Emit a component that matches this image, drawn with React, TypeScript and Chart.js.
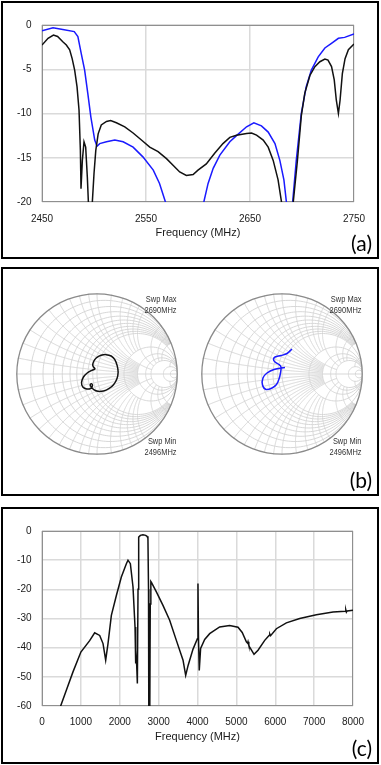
import React, { useEffect, useRef } from "react";
import { Chart, registerables } from "chart.js";

Chart.register(...registerables);

// ---------- Panel (a): |S11| 2450–2750 MHz ----------
const ticksAX = [2450, 2550, 2650, 2750];

const freqABlack = [2450, 2455.8, 2461, 2465, 2470, 2473.4, 2476.6, 2479, 2481.4, 2483.7, 2485.6, 2486.9, 2487.5, 2488.8, 2490.4, 2492, 2493.6, 2494.6, 2495.5, 2497.5, 2498.4, 2500, 2501.7, 2504, 2507, 2512, 2516, 2521.5, 2529.6, 2537.6, 2545.6, 2553.6, 2561.6, 2569.7, 2576, 2582.4, 2588.8, 2595.3, 2600, 2608, 2616, 2624, 2630.6, 2637, 2646.7, 2651.5, 2656.3, 2662.7, 2667.5, 2672.3, 2677, 2680.3, 2682, 2690, 2691.6, 2695.6, 2699.4, 2702.7, 2707.6, 2712.4, 2717.2, 2722, 2725, 2728.4, 2731, 2733, 2735, 2736.6, 2738.8, 2741.4, 2744.6, 2750];
const dbABlack = [-2.26, -1.5, -1.13, -1.3, -1.9, -2.26, -2.8, -3.8, -5.1, -7, -9.6, -14.15, -18.5, -15.3, -13.2, -13.8, -17.2, -20, -23, -23, -20, -16.8, -14.2, -12.3, -11.3, -10.9, -10.8, -11.05, -11.5, -12.2, -13.0, -13.8, -14.3, -15.1, -15.85, -16.6, -17.0, -16.9, -16.4, -15.7, -14.5, -13.4, -12.7, -12.45, -12.26, -12.2, -12.45, -13.0, -13.8, -15.3, -17.5, -20, -23, -23, -20, -15.3, -10.2, -7.7, -5.7, -4.7, -4.15, -3.85, -3.96, -4.7, -6.2, -8.5, -10.0, -8.5, -5.5, -3.8, -2.8, -2.15];

const freqABlue = [2450, 2460.6, 2470, 2481, 2484.5, 2487.7, 2491, 2494, 2497, 2500.7, 2502.9, 2505.5, 2512, 2520, 2528, 2537.6, 2547, 2557, 2563, 2568.7, 2572, 2602, 2605.6, 2609.7, 2614.6, 2621, 2630.6, 2637, 2646.7, 2653.7, 2661, 2667.5, 2674, 2678.7, 2682.6, 2685, 2687, 2689, 2691, 2694.5, 2699.3, 2704, 2709, 2715.6, 2722, 2728, 2735, 2741, 2750];
const dbABlue = [-0.64, -0.3, -0.5, -0.75, -1.3, -3.2, -5.1, -7.7, -10.4, -13.0, -13.7, -13.4, -13.2, -13.0, -13.2, -13.8, -14.9, -16.4, -17.9, -20, -23, -23, -20, -17.9, -16.2, -14.7, -13.2, -12.5, -11.5, -11.05, -11.4, -12.1, -13.4, -15.3, -17.5, -20, -23, -23, -20, -15.3, -10.0, -7.0, -5.1, -3.6, -2.6, -2.1, -1.5, -1.4, -1.0];

// ---------- Panel (b): Smith charts (reflection coefficient, re / im) ----------
const smithLeftRe = [-0.022, -0.052, -0.043, -0.010, 0.052, 0.113, 0.175, 0.220, 0.249, 0.261, 0.245, 0.204, 0.146, 0.080, 0.010, -0.040, -0.068, -0.084, -0.068, -0.056, -0.077, -0.126, -0.175, -0.191, -0.167, -0.121, -0.064, -0.022];
const smithLeftIm = [0.062, 0.103, 0.152, 0.198, 0.231, 0.239, 0.222, 0.177, 0.103, 0.021, -0.062, -0.132, -0.181, -0.210, -0.214, -0.194, -0.165, -0.136, -0.119, -0.144, -0.177, -0.185, -0.160, -0.103, -0.037, 0.012, 0.045, 0.062];

const smithRightRe = [0.123, 0.062, -0.012, -0.086, -0.105, -0.086, -0.037, -0.012, -0.019, -0.037, -0.068, -0.123, -0.198, -0.241, -0.235, -0.185, -0.099, 0.037];
const smithRightIm = [0.309, 0.253, 0.228, 0.210, 0.179, 0.148, 0.117, 0.086, 0.012, -0.062, -0.130, -0.173, -0.191, -0.136, -0.049, 0.012, 0.056, 0.080];

// Smith grid: constant-resistance circles (with reactance extent) and constant-reactance arcs (with resistance extent)
const smithR = [0.1, 0.2, 0.3, 0.4, 0.5, 0.6, 0.7, 0.8, 0.9, 1, 2, 3, 4, 5, 10, 20];
const smithRMaxX = [5, 5, 5, 5, 5, 5, 5, 5, 5, 1000, 1000, 1000, 1000, 1000, 1000, 1000];
const smithX = [0.1, 0.2, 0.3, 0.4, 0.5, 0.6, 0.7, 0.8, 0.9, 1, 1.2, 1.4, 1.6, 1.8, 2, 3, 4, 5, 10];
const smithXMaxR = [3, 3, 3, 3, 3, 3, 3, 3, 3, 5, 2, 2, 2, 2, 5, 5, 5, 5, 10];
const sweepMax = ["Swp Max", "2690MHz"];
const sweepMin = ["Swp Min", "2496MHz"];

// ---------- Panel (c): wideband 0–8000 MHz ----------
const freqC = [430, 480, 626, 797, 1000, 1226, 1355, 1484, 1570, 1638, 1698, 1784, 1913, 2041, 2170, 2212, 2273, 2341, 2393, 2402, 2410, 2418, 2436, 2453, 2470, 2487, 2530, 2598, 2667, 2701, 2725, 2740, 2748, 2772, 2785, 2800, 2815, 2942, 3112, 3284, 3456, 3628, 3696, 3760, 3885, 3997, 4012, 4025, 4045, 4080, 4185, 4313, 4570, 4827, 5042, 5150, 5257, 5290, 5300, 5320, 5343, 5454, 5557, 5729, 5840, 5860, 5880, 6029, 6286, 6629, 7058, 7487, 7800, 7815, 7830, 7850, 8000];
const dbC = [-66, -60, -54.6, -48.3, -41.5, -37.6, -34.9, -35.8, -38.6, -44.3, -38.6, -28.9, -22.1, -15.8, -11.2, -10.0, -11.2, -19.2, -32.9, -36.3, -45.4, -40.9, -46, -52.3, -20, -2.1, -1.5, -1.3, -1.5, -1.8, -2.5, -20, -65, -65, -25, -17.3, -17.6, -20.9, -25.5, -30.6, -37.5, -44.3, -49.5, -46, -40.5, -36.9, -18, -36.5, -47.8, -40.3, -37.2, -35.2, -32.9, -32.4, -33.0, -34.8, -38.0, -38.5, -38.0, -39.2, -39.8, -42.3, -40.9, -37.5, -35.8, -35.3, -35.9, -33.5, -31.5, -30, -28.7, -27.8, -27.5, -27.0, -27.8, -27.4, -27.2];

const FONT = "'Liberation Sans', Arial, Helvetica, sans-serif";
const TXT = "#1a1a1a";
const GRID = "#dadada";

const plotFrame = {
  id: "plotFrame",
  beforeDatasetsDraw(chart: any) {
    const { ctx, chartArea: a } = chart;
    ctx.save();
    ctx.strokeStyle = "#8f8f8f";
    ctx.lineWidth = 1;
    ctx.strokeRect(Math.round(a.left) + 0.5, Math.round(a.top) + 0.5, Math.round(a.right - a.left) - 1, Math.round(a.bottom - a.top) - 1);
    ctx.restore();
  },
};

function gammaOf(r: number, x: number) {
  const d = (r + 1) * (r + 1) + x * x;
  return [(r * r - 1 + x * x) / d, (2 * x) / d];
}

const smithGrid = {
  id: "smithGrid",
  beforeDatasetsDraw(chart: any) {
    const { ctx } = chart;
    const xs = chart.scales.x;
    const ys = chart.scales.y;
    const cx = xs.getPixelForValue(0);
    const cy = ys.getPixelForValue(0);
    const R = xs.getPixelForValue(1) - cx;
    const N = 160;
    const poly = (f: (k: number) => number[]) => {
      ctx.beginPath();
      for (let k = 0; k <= N; k++) {
        const [gx, gy] = f(k / N);
        const px = xs.getPixelForValue(gx);
        const py = ys.getPixelForValue(gy);
        if (k === 0) ctx.moveTo(px, py);
        else ctx.lineTo(px, py);
      }
      ctx.stroke();
    };
    ctx.save();
    ctx.beginPath();
    ctx.arc(cx, cy, R, 0, Math.PI * 2);
    ctx.clip();
    ctx.strokeStyle = "#d3d3d3";
    ctx.lineWidth = 0.9;
    smithR.forEach((r, i) => {
      const tm = Math.atan(smithRMaxX[i]);
      poly((s) => gammaOf(r, Math.tan(-tm + 2 * tm * s)));
    });
    smithX.forEach((x, i) => {
      const um = Math.atan(smithXMaxR[i]);
      poly((s) => gammaOf(Math.tan(um * s), x));
      poly((s) => gammaOf(Math.tan(um * s), -x));
    });
    ctx.beginPath();
    ctx.moveTo(cx - R, cy);
    ctx.lineTo(cx + R, cy);
    ctx.stroke();
    ctx.restore();
    ctx.save();
    ctx.strokeStyle = "#8a8a8a";
    ctx.lineWidth = 1.3;
    ctx.beginPath();
    ctx.arc(cx, cy, R - 0.8, 0, Math.PI * 2);
    ctx.stroke();
    ctx.restore();
  },
};

function pts(xs: number[], ys: number[]) {
  return xs.map((x, i) => ({ x, y: ys[i] }));
}

function rectChart(opts: {
  datasets: any[];
  xmin: number; xmax: number; xstep: number; xticks?: number[];
  ymin: number; ymax: number; ystep: number;
  padTop: number; padRight: number; xHeight: number; titlePad: number; tickPadX: number;
}) {
  return {
    type: "line",
    data: { datasets: opts.datasets },
    options: {
      animation: false,
      responsive: false,
      devicePixelRatio: 1,
      layout: { padding: { left: 0, top: opts.padTop, right: opts.padRight, bottom: 0 } },
      plugins: { legend: { display: false }, tooltip: { enabled: false } },
      elements: { point: { radius: 0 }, line: { tension: 0 } },
      scales: {
        x: {
          type: "linear",
          min: opts.xmin,
          max: opts.xmax,
          afterBuildTicks: (s: any) => {
            if (opts.xticks) s.ticks = opts.xticks.map((v) => ({ value: v }));
          },
          ticks: {
            stepSize: opts.xstep,
            autoSkip: false,
            maxRotation: 0,
            padding: opts.tickPadX,
            color: TXT,
            font: { family: FONT, size: 10 },
            callback: (v: any) => String(v),
          },
          grid: { color: GRID, lineWidth: 1.5, drawTicks: false },
          border: { display: false },
          title: {
            display: true,
            text: "Frequency (MHz)",
            color: TXT,
            font: { family: FONT, size: 11 },
            padding: { top: 0, bottom: opts.titlePad },
          },
          afterFit: (s: any) => { s.height = opts.xHeight; },
        },
        y: {
          type: "linear",
          min: opts.ymin,
          max: opts.ymax,
          ticks: {
            stepSize: opts.ystep,
            padding: 10.5,
            color: TXT,
            font: { family: FONT, size: 10 },
            callback: (v: any) => String(v),
          },
          grid: { color: GRID, lineWidth: 1.5, drawTicks: false },
          border: { display: false },
          afterFit: (s: any) => { s.width = 42; },
        },
      },
    },
    plugins: [plotFrame],
  };
}

function makeA() {
  return rectChart({
    datasets: [
      { data: pts(freqABlack, dbABlack), borderColor: "#111111", borderWidth: 1.5, pointRadius: 0, tension: 0 },
      { data: pts(freqABlue, dbABlue), borderColor: "#1a1aff", borderWidth: 1.5, pointRadius: 0, tension: 0 },
    ],
    xmin: 2450, xmax: 2750, xstep: 100, xticks: ticksAX,
    ymin: -20, ymax: 0, ystep: 5,
    padTop: 25, padRight: 27, xHeight: 57, titlePad: 19.4, tickPadX: 11,
  });
}

function makeC() {
  return rectChart({
    datasets: [
      { data: pts(freqC, dbC), borderColor: "#111111", borderWidth: 1.5, pointRadius: 0, tension: 0 },
    ],
    xmin: 0, xmax: 8000, xstep: 1000,
    ymin: -60, ymax: 0, ystep: 10,
    padTop: 31, padRight: 28, xHeight: 59, titlePad: 21.4, tickPadX: 10,
  });
}

function makeSmith(re: number[], im: number[], color: string) {
  return {
    type: "scatter",
    data: {
      datasets: [
        { data: pts(re, im), showLine: true, borderColor: color, borderWidth: 1.5, pointRadius: 0, tension: 0.35 },
      ],
    },
    options: {
      animation: false,
      responsive: false,
      devicePixelRatio: 1,
      layout: { padding: 0 },
      plugins: { legend: { display: false }, tooltip: { enabled: false } },
      scales: {
        x: { type: "linear", min: -1, max: 1, display: false },
        y: { type: "linear", min: -1, max: 1, display: false },
      },
    },
    plugins: [smithGrid],
  };
}

function ChartCanvas(props: { make: () => any; left: number; top: number; width: number; height: number }) {
  const ref = useRef<HTMLCanvasElement>(null);
  useEffect(() => {
    const chart = new Chart(ref.current as HTMLCanvasElement, props.make());
    return () => chart.destroy();
  }, []);
  return (
    <canvas
      ref={ref}
      width={props.width}
      height={props.height}
      style={{ position: "absolute", left: props.left, top: props.top, width: props.width, height: props.height }}
    />
  );
}

function Frame(props: { top: number; height: number }) {
  return (
    <div
      style={{
        position: "absolute",
        left: 1,
        top: props.top,
        width: 378,
        height: props.height,
        border: "2px solid #000",
        boxSizing: "border-box",
        pointerEvents: "none",
      }}
    />
  );
}

function PanelLabel(props: { text: string; top: number }) {
  return (
    <div
      style={{
        position: "absolute",
        right: 9,
        top: props.top,
        fontFamily: "Lato, 'Open Sans', sans-serif",
        fontSize: 21,
        lineHeight: "21px",
        color: "#000",
      }}
    >
      {props.text}
    </div>
  );
}

function SweepText(props: { lines: string[]; right: number; top: number }) {
  return (
    <div
      style={{
        position: "absolute",
        right: props.right,
        top: props.top,
        textAlign: "right",
        fontFamily: FONT,
        fontSize: 9,
        lineHeight: "10.7px",
        color: "#333",
        whiteSpace: "nowrap",
        transform: "scaleX(0.83)",
        transformOrigin: "right top",
      }}
    >
      {props.lines.map((l) => (
        <div key={l}>{l}</div>
      ))}
    </div>
  );
}

export default function App() {
  return (
    <div style={{ position: "absolute", left: 0, top: 0, width: 381, height: 765, background: "#fff", overflow: "hidden" }}>
      <ChartCanvas make={makeA} left={0} top={0} width={381} height={259} />
      <ChartCanvas make={() => makeSmith(smithLeftRe, smithLeftIm, "#111111")} left={16} top={293} width={162} height={162} />
      <ChartCanvas make={() => makeSmith(smithRightRe, smithRightIm, "#1a1aff")} left={201} top={293} width={162} height={162} />
      <ChartCanvas make={makeC} left={0} top={500} width={381} height={265} />

      <SweepText lines={sweepMax} right={204} top={294} />
      <SweepText lines={sweepMin} right={204} top={436} />
      <SweepText lines={sweepMax} right={19} top={294} />
      <SweepText lines={sweepMin} right={19} top={436} />

      <Frame top={1} height={258} />
      <Frame top={267} height={229} />
      <Frame top={507} height={257} />

      <PanelLabel text="(a)" top={232} />
      <PanelLabel text="(b)" top={469} />
      <PanelLabel text="(c)" top={737} />
    </div>
  );
}
